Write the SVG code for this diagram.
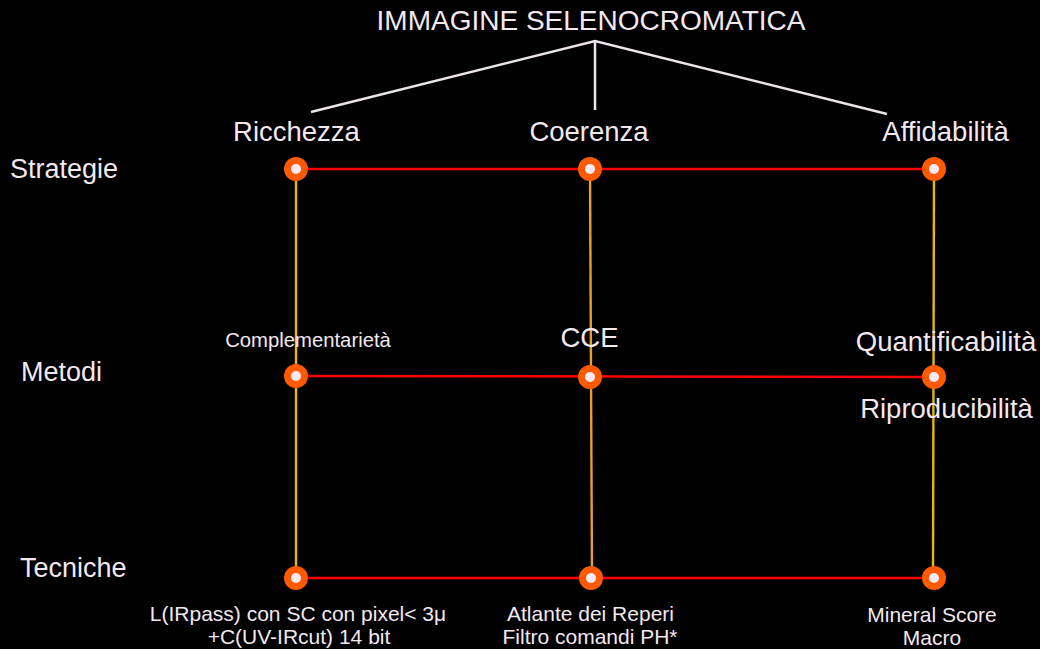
<svg xmlns="http://www.w3.org/2000/svg" width="1040" height="649" viewBox="0 0 1040 649">
<style>
text{font-family:"Liberation Sans",Arial,sans-serif;fill:#f3e8f0}
.title{font-size:28px}
.big{font-size:27.5px}
.mid{font-size:27px}
.sm{font-size:21px}
.xs{font-size:20.3px}
.white{stroke:#ece4ea;stroke-width:2.5;fill:none}
.red{stroke:#ff0000;stroke-width:2.5}
.yel{stroke:#e8b800;stroke-width:2.4}
.yel2{stroke:#e6a02a;stroke-width:2.4}
.outer{fill:#ff5a00}
.inner{fill:#f8eaf8}
</style>
<defs>
<g id="dot"><circle r="12" class="outer"/><circle r="5" class="inner"/></g>
</defs>
<rect width="1040" height="649" fill="#000"/>
<g id="title">
<text class="title" x="591" y="30" text-anchor="middle">IMMAGINE SELENOCROMATICA</text>
</g>
<g id="connectors">
<polyline class="white" points="311,112 595,41 887,114"/>
<line class="white" x1="595" y1="41" x2="595" y2="110"/>
<line class="yel" x1="296" y1="169" x2="296" y2="578"/>
<line class="yel2" x1="590" y1="169" x2="592" y2="578"/>
<line class="yel" x1="934" y1="169" x2="933" y2="578"/>
<line class="red" x1="296" y1="169" x2="934" y2="169"/>
<line class="red" x1="296" y1="376" x2="934" y2="377"/>
<line class="red" x1="296" y1="578" x2="934" y2="578"/>
</g>
<g id="row-labels">
<text class="mid" x="10" y="178">Strategie</text>
<text class="mid" x="21" y="381">Metodi</text>
<text class="mid" x="20" y="577">Tecniche</text>
</g>
<g id="node-ricchezza"><use href="#dot" x="296" y="169"/><text class="big" x="296.5" y="141" text-anchor="middle">Ricchezza</text></g>
<g id="node-coerenza"><use href="#dot" x="590" y="169"/><text class="big" x="589" y="141" text-anchor="middle">Coerenza</text></g>
<g id="node-affidabilita"><use href="#dot" x="934" y="169"/><text class="big" x="945.5" y="141" text-anchor="middle">Affidabilità</text></g>
<g id="node-complementarieta"><use href="#dot" x="296" y="376"/><text class="xs" x="308" y="347" text-anchor="middle">Complementarietà</text></g>
<g id="node-cce"><use href="#dot" x="590" y="377"/><text class="big" x="589.5" y="347" text-anchor="middle">CCE</text></g>
<g id="node-quantificabilita"><use href="#dot" x="934" y="377"/><text class="big" x="946" y="351" text-anchor="middle">Quantificabilità</text><text class="big" x="946.5" y="418" text-anchor="middle">Riproducibilità</text></g>
<g id="node-lirpass"><use href="#dot" x="296" y="578"/><text class="sm" x="298" y="621" text-anchor="middle">L(IRpass) con SC con pixel&lt; 3μ</text><text class="sm" x="299" y="644" text-anchor="middle">+C(UV-IRcut) 14 bit</text></g>
<g id="node-atlante"><use href="#dot" x="591" y="578"/><text class="sm" x="590.5" y="621" text-anchor="middle">Atlante dei Reperi</text><text class="sm" x="590" y="644" text-anchor="middle">Filtro comandi PH*</text></g>
<g id="node-mineral"><use href="#dot" x="934" y="578"/><text class="sm" x="932" y="622" text-anchor="middle">Mineral Score</text><text class="sm" x="932" y="645" text-anchor="middle">Macro</text></g>
</svg>
